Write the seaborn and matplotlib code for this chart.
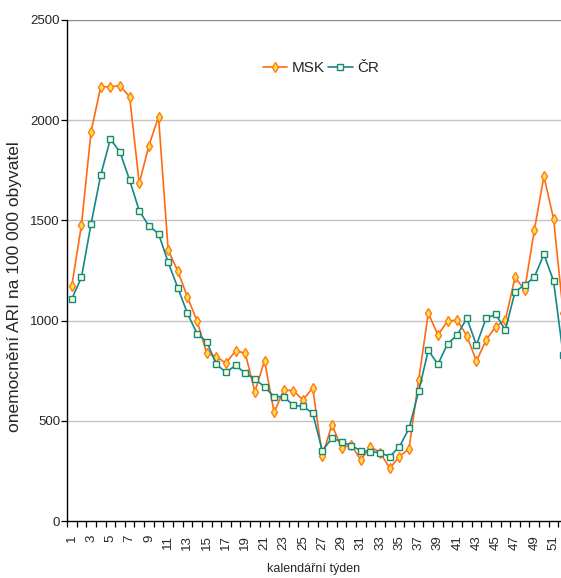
import numpy as np
import pandas as pd
import matplotlib
matplotlib.use("Agg")
import matplotlib.pyplot as plt
import seaborn as sns

# Weekly ARI incidence per 100 000 inhabitants
weeks = list(range(1, 53))
msk = [1174, 1477, 1943, 2167, 2167, 2172, 2117, 1685, 1873, 2017,
       1352, 1247, 1118, 998, 837, 820, 787, 850, 837, 645,
       800, 542, 654, 650, 604, 665, 324, 481, 364, 379,
       304, 371, 341, 263, 321, 361, 704, 1037, 928, 997,
       1003, 923, 798, 903, 970, 1003, 1216, 1153, 1450, 1720,
       1508, 1040]
cr = [1108, 1216, 1483, 1726, 1906, 1841, 1701, 1548, 1472, 1434,
      1291, 1164, 1036, 935, 895, 782, 742, 777, 737, 708,
      670, 620, 620, 577, 572, 538, 351, 413, 396, 376,
      351, 346, 341, 321, 371, 462, 647, 852, 782, 884,
      928, 1012, 878, 1012, 1031, 953, 1144, 1178, 1216, 1331,
      1198, 828]
series_names = ["MSK", "ČR"]
y_ticks = [0, 500, 1000, 1500, 2000, 2500]
x_labels = [str(w) for w in weeks[::2]]

sns.set_style("white")
plt.rcParams["font.family"] = ["Liberation Sans", "DejaVu Sans"]

W, H = 561, 578
fig = plt.figure(figsize=(W / 100, H / 100), dpi=100)
left, right_px, top_px, bottom_px = 67, 568, 20, 521
ax = fig.add_axes([left / W, 1 - bottom_px / H, (right_px - left) / W, (bottom_px - top_px) / H])

df = pd.DataFrame({"week": weeks, "MSK": msk, "ČR": cr})

# horizontal grid lines
for v in y_ticks[1:-1]:
    ax.axhline(v, color="#c4c4c4", lw=1.0, zorder=0)
ax.axhline(y_ticks[-1], color="#8c8c8c", lw=1.0, zorder=0)

sns.lineplot(data=df, x="week", y="MSK", ax=ax, color="#ff6a10", lw=1.2,
             marker="d", markersize=5.5, markerfacecolor="#ffe24a",
             markeredgecolor="#ff7a1a", markeredgewidth=1.0, label=series_names[0])
sns.lineplot(data=df, x="week", y="ČR", ax=ax, color="#12888a", lw=1.2,
             marker="s", markersize=5, markerfacecolor="#ffffc8",
             markeredgecolor="#12888a", markeredgewidth=1.0, label=series_names[1])

ax.set_xlim(0.5, 52.5)
ax.set_ylim(0, 2500)

# category boundaries carry the tick marks, labels sit on every other week
ax.set_xticks(np.arange(0.5, 53, 1.0))
ax.set_xticklabels([])
ax.set_xticks(weeks[::2], minor=True)
ax.set_xticklabels(x_labels, minor=True, rotation=90, fontsize=9.5)
ax.tick_params(axis="x", which="major", direction="out", length=4, width=0.9, color="black", bottom=True)
ax.tick_params(axis="x", which="minor", length=0, pad=10)

ax.set_yticks(y_ticks)
ax.set_yticklabels([str(v) for v in y_ticks], fontsize=9.5)
ax.tick_params(axis="y", direction="out", length=4, width=0.9, color="black", left=True, pad=1)

for s in ["top", "right"]:
    ax.spines[s].set_visible(False)
for s in ["left", "bottom"]:
    ax.spines[s].set_color("black")
    ax.spines[s].set_linewidth(1.0)

ax.set_xlabel("")
ax.set_ylabel("")
fig.text(15 / W, 1 - 287 / H, "onemocnění ARI na 100 000 obyvatel", rotation=90,
         ha="center", va="center", fontsize=12.5)
fig.text(314 / W, 1 - 569 / H, "kalendářní týden", ha="center", va="center", fontsize=9)

ax.legend(loc="center", bbox_to_anchor=(321 / W, 1 - 68 / H), bbox_transform=fig.transFigure,
          ncol=2, frameon=False, fontsize=11, handlelength=1.6, handletextpad=0.3,
          columnspacing=0.2, borderpad=0)

fig.savefig("out.png", dpi=100)
